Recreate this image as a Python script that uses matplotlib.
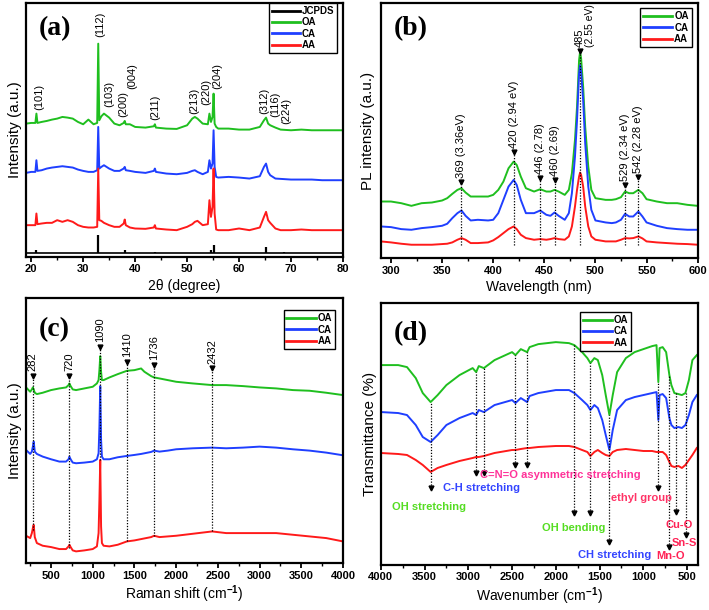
import matplotlib
matplotlib.use("Agg")
import matplotlib.pyplot as plt
from matplotlib.ticker import MultipleLocator

plt.rcParams['font.family'] = ['Liberation Sans', 'DejaVu Sans']
plt.rcParams['font.weight'] = 'bold'
plt.rcParams['axes.linewidth'] = 1.6
plt.rcParams['mathtext.fontset'] = 'custom'
plt.rcParams['mathtext.rm'] = 'Liberation Sans:bold'
plt.rcParams['mathtext.bf'] = 'Liberation Sans:bold'

GREEN = '#1fbf1f'
BLUE = '#1f3fff'
RED = '#ff1a1a'

# ---- (a) XRD ----
two_theta = [19, 20, 20.8, 21, 21.2, 22, 23, 24, 25, 26, 27, 28, 29, 30, 31, 32, 32.7, 32.9, 33.1, 33.5,
             34, 35, 36, 37, 37.8, 38, 38.2, 39, 40, 42, 43.6, 43.8, 44, 46, 48, 50, 51, 51.5, 52, 53,
             54, 54.3, 54.6, 54.9, 55.1, 55.3, 55.6, 56, 58, 60, 62, 64, 64.8, 65.2, 65.6, 66, 67, 68,
             70, 72, 74, 76, 78, 80]
xrd_oa = [430, 432, 432, 460, 432, 435, 438, 442, 445, 450, 448, 445, 435, 428, 442, 428, 432, 670, 440, 452,
          460, 448, 430, 425, 432, 438, 428, 428, 420, 418, 422, 428, 418, 415, 414, 425, 445, 450, 445, 430,
          428, 460, 435, 450, 520, 430, 420, 415, 415, 412, 412, 420, 440, 448, 430, 425, 418, 412,
          410, 412, 410, 410, 410, 410]
xrd_ca = [282, 285, 285, 320, 288, 290, 295, 298, 300, 302, 300, 298, 292, 288, 285, 285, 290, 420, 295, 300,
          305, 295, 288, 288, 295, 300, 290, 288, 285, 282, 288, 295, 285, 280, 278, 282, 288, 290, 285, 278,
          285, 320, 295, 310, 410, 300, 270, 268, 270, 268, 265, 272, 300, 310, 285, 275, 265, 264,
          262, 262, 262, 260, 260, 260]
xrd_aa = [125, 125, 125, 160, 128, 130, 132, 132, 140, 135, 140, 135, 125, 120, 118, 118, 120, 295, 140, 138,
          132, 125, 120, 120, 130, 142, 125, 118, 115, 114, 118, 125, 115, 112, 110, 120, 128, 135, 138, 125,
          128, 200, 150, 180, 295, 160, 112, 110, 110, 115, 110, 118, 150, 165, 140, 132, 115, 110,
          110, 112, 110, 110, 110, 110]
jcpds_pos = [21.0, 32.9, 38.0, 43.8, 54.6, 55.1, 65.1, 68.7]
jcpds_int = [10, 55, 10, 4, 10, 25, 19, 5]
jcpds_base = 40
hkl_labels = ['(101)', '(112)', '(103)', '(200)', '(004)', '(211)', '(213)', '(220)', '(204)',
              '(312)', '(116)', '(224)']
hkl_x = [21.5, 33.2, 35.0, 37.7, 39.4, 43.9, 51.3, 53.6, 55.8, 64.8, 67.0, 69.0]
hkl_y = [470, 690, 480, 450, 535, 440, 460, 485, 535, 460, 450, 430]

# ---- (b) PL ----
wavelength = [290, 300, 310, 320, 330, 340, 350, 355, 360, 365, 369, 373, 378, 385, 395, 400, 405, 410, 415, 420,
              423, 427, 432, 440, 446, 452, 456, 460, 464, 470, 474, 477, 480, 482, 484, 485, 486, 488, 490, 493,
              496, 500, 510, 516, 520, 525, 529, 533, 537, 542, 546, 550, 560, 570, 580, 590, 600]
pl_oa = [195, 195, 190, 182, 190, 192, 198, 205, 218, 230, 235, 222, 210, 210, 210, 215, 230, 255, 295, 315,
         305, 270, 235, 225, 232, 225, 225, 230, 225, 215, 230, 280, 380, 480, 620, 645, 625, 540, 420, 300,
         230, 205, 200, 200, 202, 208, 225, 220, 220, 230, 220, 202, 195, 190, 190, 185, 182]
pl_ca = [120, 118, 112, 110, 115, 118, 122, 128, 145, 160, 168, 152, 138, 140, 138, 140, 160, 200, 240, 260,
         245, 200, 160, 160, 168, 155, 152, 162, 152, 140, 160, 220, 330, 440, 580, 605, 585, 500, 370, 240,
         170, 138, 132, 130, 132, 140, 158, 150, 150, 165, 150, 132, 122, 115, 112, 110, 110]
pl_aa = [75, 72, 68, 65, 65, 65, 67, 68, 72, 80, 85, 80, 70, 70, 72, 78, 88, 100, 112, 120,
         112, 95, 85, 80, 82, 80, 82, 85, 82, 80, 90, 120, 180, 230, 270, 282, 275, 240, 180, 120,
         90, 80, 75, 75, 75, 80, 85, 84, 85, 90, 84, 75, 72, 70, 68, 67, 65]
pl_marks = [369, 420, 446, 460, 485, 529, 542]
pl_tips = [255, 345, 265, 260, 648, 245, 270]
pl_labels = ['369 (3.36eV)', '420 (2.94 eV)', '446 (2.78)', '460 (2.69)', '485', '529 (2.34 eV)',
             '542 (2.28 eV)']

# ---- (c) Raman ----
raman_shift = [200, 250, 270, 282, 292, 305, 330, 400, 500, 600, 680, 710, 720, 735, 760, 800, 900, 1000, 1050,
               1070, 1080, 1090, 1100, 1110, 1130, 1200, 1300, 1410, 1500, 1580, 1620, 1700, 1736, 1800, 1900,
               2000, 2200, 2432, 2600, 2800, 3000, 3200, 3400, 3600, 3800, 4000]
raman_oa = [538, 525, 532, 538, 532, 522, 518, 522, 530, 535, 538, 545, 550, 542, 532, 530, 535, 540, 550,
            560, 590, 632, 585, 560, 560, 568, 578, 588, 590, 595, 585, 572, 568, 565, 560,
            555, 550, 545, 545, 542, 538, 535, 530, 528, 522, 515]
raman_ca = [350, 338, 345, 360, 375, 345, 338, 330, 322, 315, 315, 322, 330, 322, 312, 310, 312, 315, 322,
            340, 420, 542, 380, 330, 322, 322, 328, 332, 335, 338, 340, 344, 348, 345, 348,
            352, 355, 357, 355, 357, 360, 357, 352, 348, 342, 334]
raman_aa = [92, 85, 100, 115, 125, 88, 70, 62, 58, 52, 52, 60, 65, 58, 48, 45, 48, 52, 60,
            100, 200, 320, 120, 70, 62, 60, 65, 75, 78, 82, 84, 88, 92, 88, 90,
            92, 98, 105, 100, 100, 100, 100, 95, 90, 85, 75]
raman_marks = [282, 720, 1090, 1410, 1736, 2432]
raman_tips = [572, 572, 660, 615, 605, 595]
raman_bottoms = [110, 55, 320, 75, 90, 105]

# ---- (d) FTIR ----
wavenumber = [4000, 3800, 3700, 3600, 3520, 3430, 3350, 3250, 3100, 2950, 2910, 2880, 2822, 2700, 2500, 2461,
              2400, 2328, 2300, 2200, 2000, 1850, 1788, 1700, 1640, 1605, 1560, 1520, 1470, 1430, 1388, 1350,
              1300, 1200, 1100, 1000, 900, 850, 829, 815, 780, 740, 703, 680, 646, 600, 560, 520, 480, 440, 390]
ftir_oa = [235, 235, 233, 222, 207, 198, 205, 215, 225, 232, 228, 234, 232, 240, 248, 245,
           251, 248, 253, 256, 258, 257, 255, 248, 242, 237, 242, 240, 225, 205, 185, 205,
           228, 242, 248, 251, 254, 255, 218, 252, 253, 248, 225, 215, 207, 206, 205, 207, 220, 240, 245]
ftir_ca = [188, 187, 185, 175, 163, 158, 165, 175, 182, 187, 185, 190, 188, 195, 200, 197,
           202, 198, 204, 207, 210, 210, 207, 200, 195, 190, 195, 192, 180, 165, 150, 170,
           190, 200, 203, 205, 207, 208, 180, 205, 206, 202, 182, 175, 172, 173, 172, 175, 185, 198, 205]
ftir_aa = [147, 146, 145, 140, 135, 128, 132, 135, 139, 142, 143, 143, 144, 147, 150, 150,
           151, 152, 152, 153, 154, 154, 153, 150, 148, 144, 148, 150, 147, 145, 144, 148,
           150, 151, 150, 149, 149, 148, 148, 148, 148, 145, 138, 134, 133, 134, 132, 135, 140, 145, 152]
ftir_marks = [3430, 2910, 2822, 2461, 2328, 1788, 1605, 1388, 829, 703, 627, 514]
ftir_tops = [198, 228, 232, 245, 248, 255, 237, 185, 218, 225, 207, 207]
ftir_tips = [112, 127, 127, 135, 135, 87, 87, 58, 112, 53, 88, 65]
ftir_labels = ['OH stretching', 'C-H stretching', 'C=N=O asymmetric stretching', 'OH bending',
               'CH stretching', 'ethyl group', 'Mn-O', 'Cu-O', 'Sn-S']
ftir_label_x = [3446, 2845, 1947, 1800, 1334, 1026, 684, 590, 530]
ftir_label_y = [93, 112, 125, 72, 45, 102, 44, 75, 57]
ftir_label_c = ['#55dd22', '#3344ff', '#ff3399', '#55dd22', '#3344ff', '#ff3366', '#ff2255', '#ff2255',
                '#ff2255']

DOT = (0, (1, 1.3))
LW = 1.4

fig = plt.figure(figsize=(7.09, 6.10), dpi=100)
ax_a = fig.add_axes([0.0367, 0.579, 0.447, 0.416])
ax_b = fig.add_axes([0.537, 0.577, 0.447, 0.418])
ax_c = fig.add_axes([0.0367, 0.077, 0.447, 0.434])
ax_d = fig.add_axes([0.537, 0.074, 0.447, 0.429])


def style(ax, major, minor):
    ax.set_yticks([])
    ax.xaxis.set_major_locator(MultipleLocator(major))
    ax.xaxis.set_minor_locator(MultipleLocator(minor))
    ax.tick_params(axis='x', which='major', direction='out', length=3.5, width=1.3, labelsize=8, pad=2)
    ax.tick_params(axis='x', which='minor', direction='out', length=2, width=1.0)


def legend(ax, anchor, hl=3.0):
    lg = ax.legend(loc='upper right', bbox_to_anchor=anchor, fontsize=7, frameon=True, fancybox=False,
                   edgecolor='k', framealpha=1, handlelength=hl, borderaxespad=0, labelspacing=0.15,
                   handletextpad=0.2, borderpad=0.3)
    lg.get_frame().set_linewidth(1.0)
    for ln in lg.get_lines():
        ln.set_linewidth(2)


def panel_tag(ax, tag, y):
    ax.text(0.04, y, tag, transform=ax.transAxes, fontsize=20, fontweight='bold',
            family='Liberation Serif', ha='left', va='center')


# (a)
ax = ax_a
ax.axhline(jcpds_base, color='k', lw=1.2, label='JCPDS')
ax.vlines(jcpds_pos, jcpds_base, [jcpds_base + h for h in jcpds_int], color='k', lw=1.6)
ax.plot(two_theta, xrd_oa, color=GREEN, lw=LW, label='OA')
ax.plot(two_theta, xrd_ca, color=BLUE, lw=LW, label='CA')
ax.plot(two_theta, xrd_aa, color=RED, lw=LW, label='AA')
for lab, x, y in zip(hkl_labels, hkl_x, hkl_y):
    ax.text(x, y, lab, rotation=90, ha='center', va='bottom', fontsize=8, fontweight='normal')
ax.set_xlim(19, 80)
ax.set_ylim(30, 792)
style(ax, 10, 5)
ax.set_xlabel('2θ (degree)', fontsize=10, labelpad=3)
ax.set_ylabel('Intensity (a.u.)', fontsize=11, labelpad=3)
legend(ax, (0.982, 1.0), 2.9)
panel_tag(ax, '(a)', 0.9)

# (b)
ax = ax_b
ax.plot(wavelength, pl_oa, color=GREEN, lw=LW, label='OA')
ax.plot(wavelength, pl_ca, color=BLUE, lw=LW, label='CA')
ax.plot(wavelength, pl_aa, color=RED, lw=LW, label='AA')
for x, tip, lab in zip(pl_marks, pl_tips, pl_labels):
    ax.vlines(x, 65, tip, color='k', lw=0.9, linestyles=DOT)
    ax.plot(x, tip, marker='v', ms=3.5, color='k')
    ax.text(x, tip + 12, lab, rotation=90, ha='center', va='bottom', fontsize=8, fontweight='normal')
ax.text(495, 660, '(2.55 eV)', rotation=90, ha='center', va='bottom', fontsize=7.5, fontweight='normal')
ax.set_xlim(290, 600)
ax.set_ylim(25, 792)
style(ax, 50, 25)
ax.set_xlabel('Wavelength (nm)', fontsize=10, labelpad=3)
ax.set_ylabel('PL intensity (a.u.)', fontsize=11, labelpad=4)
legend(ax, (0.981, 0.98))
panel_tag(ax, '(b)', 0.9)

# (c)
ax = ax_c
ax.plot(raman_shift, raman_oa, color=GREEN, lw=LW, label='OA')
ax.plot(raman_shift, raman_ca, color=BLUE, lw=LW, label='CA')
ax.plot(raman_shift, raman_aa, color=RED, lw=LW, label='AA')
for x, tip, bot in zip(raman_marks, raman_tips, raman_bottoms):
    ax.vlines(x, bot, tip, color='k', lw=0.9, linestyles=DOT)
    ax.plot(x, tip, marker='v', ms=3.5, color='k')
    ax.text(x, tip + 14, str(x), rotation=90, ha='center', va='bottom', fontsize=8, fontweight='normal')
ax.set_xlim(200, 4000)
ax.set_ylim(10, 806)
style(ax, 500, 250)
ax.set_xlabel(r'Raman shift (cm$^{-1}$)', fontsize=10, labelpad=2)
ax.set_ylabel('Intensity (a.u.)', fontsize=11, labelpad=3)
legend(ax, (0.975, 0.955))
panel_tag(ax, '(c)', 0.88)

# (d)
ax = ax_d
ax.plot(wavenumber, ftir_oa, color=GREEN, lw=LW, label='OA')
ax.plot(wavenumber, ftir_ca, color=BLUE, lw=LW, label='CA')
ax.plot(wavenumber, ftir_aa, color=RED, lw=LW, label='AA')
for x, top, tip in zip(ftir_marks, ftir_tops, ftir_tips):
    ax.vlines(x, tip, top, color='k', lw=0.9, linestyles=DOT)
    ax.plot(x, tip, marker='v', ms=3.5, color='k')
for lab, x, y, c in zip(ftir_labels, ftir_label_x, ftir_label_y, ftir_label_c):
    ax.text(x, y, lab, color=c, ha='center', va='center', fontsize=8)
ax.set_xlim(4000, 380)
ax.set_ylim(35, 297)
style(ax, 500, 250)
ax.set_xlabel(r'Wavenumber (cm$^{-1}$)', fontsize=10, labelpad=2)
ax.set_ylabel('Transmittance (%)', fontsize=11, labelpad=3)
legend(ax, (0.79, 0.966))
panel_tag(ax, '(d)', 0.885)

fig.savefig('out.png', dpi=100)
